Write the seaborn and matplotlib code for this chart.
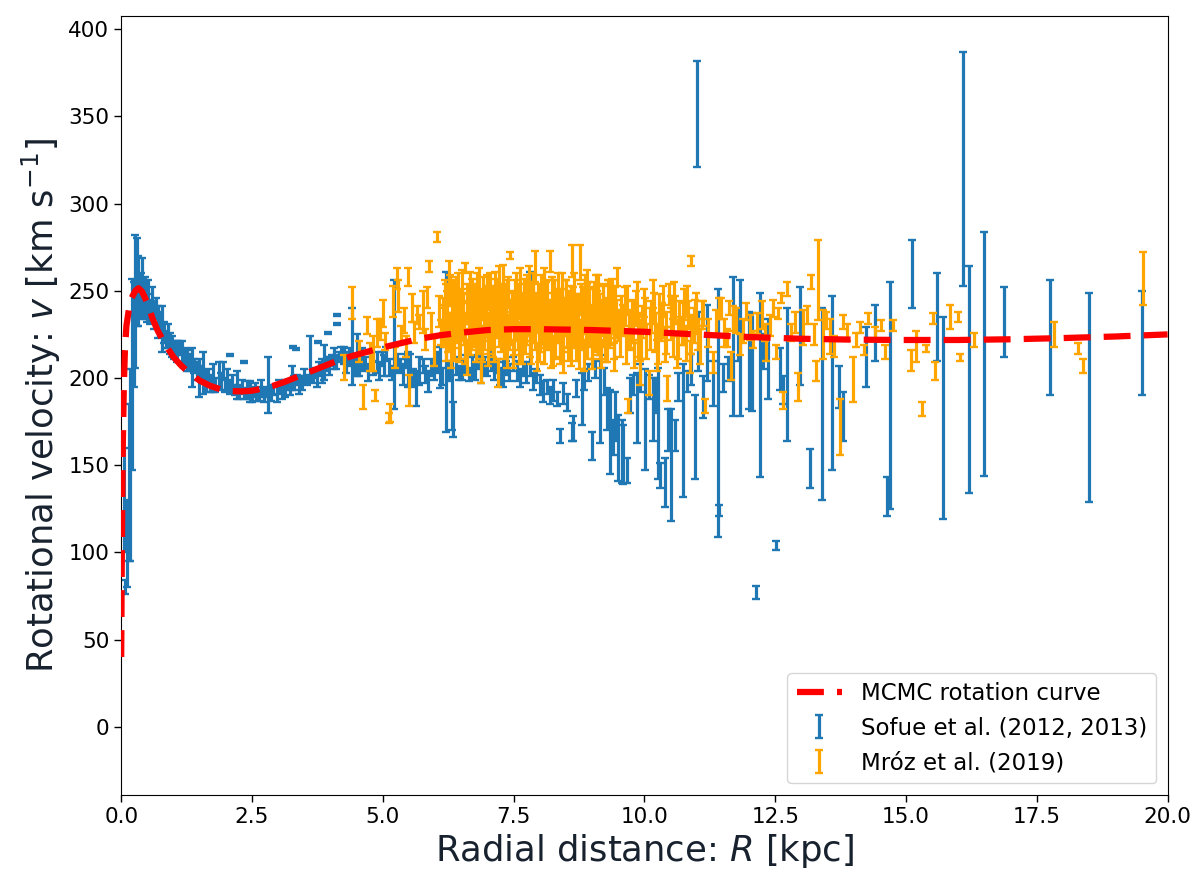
import matplotlib
matplotlib.use("Agg")
import matplotlib.pyplot as plt
import seaborn as sns

# MCMC rotation curve
curve_r = [0.0, 0.01, 0.02, 0.03, 0.05, 0.07, 0.1, 0.15, 0.2, 0.27, 0.33, 0.4, 0.5, 0.6, 0.7,
           0.8, 0.9, 1.0, 1.15, 1.3, 1.5, 1.7, 1.9, 2.1, 2.3, 2.5, 2.7, 2.9, 3.1, 3.35,
           3.6, 3.85, 4.1, 4.4, 4.7, 5.0, 5.35, 5.7, 6.1, 6.5, 7.0, 7.5, 8.0, 9.0, 10.0,
           11.0, 12.0, 13.0, 14.0, 15.0, 16.0, 17.0, 18.0, 19.0, 20.0]
curve_v = [40, 90, 130, 160, 195, 215, 230, 240, 246, 250, 251.5, 249.5, 243, 234, 227,
           221.5, 216.5, 212, 207, 203, 198.5, 195.5, 193.5, 192.5, 192.3, 192.7, 194, 195.5, 197.5, 200.5,
           203.5, 206.5, 209.5, 212.5, 215, 217.5, 220, 222.5, 224.5, 226, 227.5, 228, 228, 227.5, 226.5,
           225, 223.5, 222.5, 222, 221.8, 221.8, 222.2, 222.9, 223.8, 225]

# Sofue et al. (2012, 2013)
sofue_r = [
    0.05, 0.08, 0.11, 0.14, 0.17, 0.20, 0.24, 0.27, 0.30, 0.33, 0.37, 0.40, 0.43, 0.46, 0.49, 0.52, 0.55, 0.58,
    0.62, 0.66, 0.70, 0.74, 0.78, 0.82, 0.86, 0.90, 0.94, 0.97, 1.01, 1.06, 1.10, 1.16, 1.20, 1.25,
    1.30, 1.35, 1.40, 1.44, 1.48, 1.52, 1.57, 1.62, 1.66, 1.70, 1.75, 1.80, 1.86, 1.90, 1.95, 1.98,
    2.02, 2.07, 2.12, 2.17, 2.21, 2.26, 2.30, 2.35, 2.40, 2.46, 2.50, 2.55, 2.58, 2.63, 2.68, 2.72,
    2.77, 2.81, 2.86, 2.91, 2.97, 3.02, 3.07, 3.13, 3.18, 3.22, 3.26, 3.31, 3.36, 3.40, 3.45, 3.50,
    3.55, 3.61, 3.66, 3.70, 3.74, 3.79, 3.83, 3.87, 3.93, 3.98, 4.02, 4.06, 4.11, 4.16, 4.20, 4.25,
    2.08, 2.34, 3.29, 3.34, 3.76, 3.95, 4.12, 4.12,
    4.30, 4.35, 4.41, 4.46, 4.50, 4.55, 4.60, 4.66, 4.71, 4.76, 4.82, 4.88, 4.93, 4.98, 5.03, 5.07,
    5.12, 5.17, 5.22, 5.27, 5.33, 5.38, 5.43, 5.48, 5.52, 5.58, 5.64, 5.70, 5.76, 5.81, 5.87, 5.92,
    5.97, 6.03, 6.09, 6.14, 6.20, 6.26, 6.32, 6.34, 6.40, 6.46, 6.52, 6.58, 6.64, 6.70, 6.76, 6.82,
    6.88, 6.94, 7.00, 7.06, 7.12, 7.18, 7.24, 7.30, 7.36, 7.42, 7.48, 7.56, 7.62, 7.68, 7.74, 7.81,
    7.87, 7.93, 8.00, 8.07, 8.13, 8.20, 8.26, 8.33, 8.39, 8.45, 8.52, 8.61, 8.64, 8.70, 8.80, 8.85,
    8.92, 8.99,
    9.05, 9.15, 9.22, 9.28, 9.34, 9.40, 9.44, 9.50, 9.57, 9.60, 9.66, 9.72, 9.78, 9.85, 9.92, 10.01,
    10.08, 10.17, 10.22, 10.26, 10.30, 10.39, 10.45, 10.50, 10.58, 10.65, 10.74, 10.82, 10.90, 10.97,
    11.00, 11.03, 11.12, 11.20, 11.31, 11.41, 11.43, 11.50, 11.60, 11.70, 11.78, 11.83, 12.00, 12.05,
    12.14, 12.20, 12.26, 12.37, 12.51, 12.60, 12.65, 12.72, 12.97, 13.17, 13.40, 13.58, 13.72, 13.80,
    14.24, 14.40, 14.63, 14.70, 15.12, 15.59, 15.70, 16.08, 16.20, 16.49, 16.87, 17.76, 18.50, 19.52]
sofue_v = [
    130, 80, 105, 140, 150, 202, 225, 244, 255, 250, 248, 252, 244, 246, 240, 246, 238, 243,
    236, 240, 232, 233, 228, 226, 222, 224, 220, 218, 216, 215, 217, 215, 212, 210,
    209, 206, 207, 204, 200, 203, 203, 198, 201, 197, 200, 196, 202, 198, 204, 196,
    199, 195, 197, 193, 196, 192, 195, 191, 193, 192, 189, 193, 191, 190, 194, 190,
    192, 196, 191, 193, 191, 195, 192, 194, 196, 194, 200, 197, 199, 196, 197, 201,
    199, 211, 201, 203, 199, 205, 204, 209, 208, 207, 210, 211, 209, 212, 214, 213,
    213, 209, 218, 216.5, 220.5, 226, 236, 231,
    209, 212, 218, 207, 213, 205, 211, 208, 203, 210, 206, 209, 204, 211, 207, 214,
    206, 203, 219, 209, 207, 202, 210, 205, 205, 200, 194, 204, 207, 202, 198, 206,
    203, 209, 206, 201, 215, 204, 201, 176, 207, 203, 205, 208, 202, 206, 204, 209,
    203, 207, 205, 210, 204, 207, 201, 202, 206, 203, 208, 204, 200, 205, 203, 231,
    198, 201, 196, 192, 195, 190, 193, 188, 167, 191, 186, 169, 171, 194, 188, 199,
    203, 161,
    205, 188, 198, 182, 169, 166, 178, 160, 158, 156, 147, 190, 196, 183, 200, 176,
    195, 182, 190, 174, 144, 140, 170, 150, 167, 195, 170, 198, 205, 166,
    351.5, 221, 189, 220, 197, 180, 124, 200, 205, 218, 225, 217, 210, 209,
    77, 196, 215, 211, 104, 205, 193, 202, 224, 148, 185, 197, 195, 178,
    212, 226, 132, 190, 259.5, 235, 177, 320, 199, 214, 232, 223, 189, 220]
sofue_err = [
    30, 4, 25, 45, 55, 55, 30, 38, 25, 20, 12, 17, 10, 12, 8, 10, 7, 9,
    8, 6, 9, 5, 13, 6, 5, 7, 6, 6, 5, 6, 4, 6, 5, 6,
    5, 11, 4, 5, 11, 4, 12, 6, 4, 5, 8, 4, 7, 5, 5, 4,
    6, 4, 5, 3, 8, 4, 4, 3, 5, 6, 3, 4, 4, 3, 5, 4,
    3, 16, 4, 3, 5, 4, 4, 5, 3, 4, 7, 4, 3, 5, 4, 4,
    3, 13, 4, 3, 4, 4, 7, 10, 4, 5, 3, 6, 4, 3, 4, 5,
    0.6, 0.6, 0.6, 0.6, 0.6, 0.6, 0.6, 0.6,
    6, 5, 22, 5, 12, 4, 6, 4, 5, 6, 4, 6, 5, 4, 6, 4,
    5, 4, 37, 5, 4, 6, 4, 10, 9, 5, 10, 8, 4, 5, 6, 5,
    4, 6, 12, 5, 46, 6, 31, 10, 5, 4, 6, 5, 4, 6, 5, 4,
    6, 5, 4, 6, 5, 4, 5, 7, 4, 5, 4, 6, 5, 4, 6, 30,
    5, 4, 6, 6, 4, 5, 6, 4, 4, 6, 5, 5, 7, 5, 15, 6,
    5, 8,
    5, 25, 8, 12, 24, 10, 14, 19, 18, 17, 7, 10, 6, 20, 8, 29,
    7, 18, 10, 32, 7, 14, 12, 32, 9, 8, 38, 6, 9, 24,
    30.5, 17, 12, 22, 13, 71, 3, 8, 7, 40, 15, 39, 28, 28,
    4, 53, 10, 23, 2.5, 12, 8, 38, 28, 11, 55, 50, 12, 14,
    17, 16, 11, 65, 19.5, 25, 58, 67, 65, 70, 20, 33, 60, 30]

# Mroz et al. (2019)
mroz_r = [
    4.25, 4.41, 4.55, 4.63, 4.70, 4.76, 4.82, 4.86, 4.88, 4.95, 5.00, 5.04, 5.11, 5.14, 5.20, 5.24,
    5.27, 5.30, 5.35, 5.40, 5.45, 5.49, 5.50, 5.55, 5.60, 5.66, 5.70, 5.76, 5.80, 5.84, 5.89, 5.92,
    5.97, 6.03, 6.08, 6.12,
    6.15, 6.18, 6.20, 6.23, 6.26, 6.28, 6.31, 6.34, 6.37, 6.40, 6.43, 6.46, 6.49, 6.52, 6.55, 6.58,
    6.60, 6.63, 6.66, 6.69, 6.72, 6.75, 6.78, 6.81, 6.84, 6.87, 6.90, 6.93, 6.96, 6.99, 7.02, 7.05,
    7.08, 7.11, 7.14, 7.17, 7.20, 7.23, 7.26, 7.29, 7.32, 7.35, 7.38, 7.41, 7.43, 7.46, 7.49, 7.52,
    7.55, 7.58, 7.61, 7.64, 7.67, 7.70, 7.73, 7.76, 7.79, 7.82, 7.85, 7.88, 7.91, 7.94, 7.97, 8.00,
    8.03, 8.06, 8.09, 8.12, 8.15, 8.18, 8.20, 8.23, 8.26, 8.29, 8.32, 8.35, 8.38, 8.41, 8.44, 8.47,
    8.50, 8.53, 8.56, 8.59, 8.61, 8.64, 8.67, 8.70, 8.73, 8.76, 8.79, 8.82, 8.85, 8.88, 8.90, 8.93,
    8.96, 8.99, 9.02, 9.05, 9.08, 9.11, 9.14, 9.17, 9.20, 9.23, 9.26, 9.29, 9.32, 9.35, 9.38, 9.41,
    9.44, 9.47, 9.50, 9.53, 9.56,
    6.17, 6.21, 6.25, 6.29, 6.33, 6.36, 6.39, 6.42, 6.45, 6.48,
    6.51, 6.54, 6.57, 6.61, 6.64, 6.67, 6.70, 6.73, 6.77, 6.80,
    6.83, 6.86, 6.89, 6.92, 6.95, 6.98, 7.01, 7.04, 7.07, 7.10,
    7.13, 7.16, 7.19, 7.22, 7.25, 7.28, 7.31, 7.34, 7.37, 7.40,
    7.44, 7.47, 7.50, 7.53, 7.57, 7.60, 7.63, 7.66, 7.69, 7.72,
    7.75, 7.78, 7.81, 7.84, 7.87, 7.90, 7.93, 7.96, 7.99, 8.02,
    8.05, 8.08, 8.11, 8.14, 8.17, 8.21, 8.24, 8.27, 8.30, 8.33,
    8.36, 8.39, 8.42, 8.45, 8.48, 8.51, 8.54, 8.57, 8.60, 8.63,
    8.66, 8.69, 8.72, 8.75, 8.78, 8.81, 8.84, 8.87, 8.91, 8.94,
    8.97, 9.00, 9.03, 9.06, 9.09, 9.12, 9.15, 9.18, 9.21, 9.24,
    9.27, 9.30, 9.33, 9.36, 9.39, 9.42, 9.45,
    9.62, 9.70, 9.78, 9.86, 9.94, 10.02, 10.10, 10.18, 10.26, 10.34, 10.42, 10.50, 10.57, 10.65,
    10.73, 10.81, 10.89, 10.96,
    9.60, 9.64, 9.67, 9.69, 9.72, 9.76, 9.80, 9.84, 9.88, 9.92, 9.96, 10.00, 10.04, 10.08, 10.12, 10.16,
    10.20, 10.24, 10.28, 10.32, 10.36, 10.40, 10.43, 10.47, 10.51, 10.55, 10.59, 10.63, 10.67, 10.71,
    10.75, 10.79, 10.83, 10.87, 10.90, 10.94, 10.98, 11.02, 11.06, 11.10, 11.12, 11.16, 11.22, 11.31,
    11.36, 11.43, 11.47, 11.52, 11.57, 11.62, 11.66, 11.70, 11.76, 11.82, 11.89, 11.95, 12.02, 12.08,
    12.15, 12.24, 12.30, 12.33, 12.40, 12.45, 12.52, 12.56, 12.62, 12.65, 12.72, 12.80, 12.88, 12.94,
    13.03, 13.10, 13.19, 13.24, 13.28, 13.32, 13.42, 13.48, 13.54, 13.62, 13.73, 13.80, 13.88, 13.98,
    14.05, 14.12, 14.19, 14.28, 14.40, 14.53, 14.59, 14.75, 15.10, 15.20, 15.30, 15.39, 15.52, 15.55,
    15.84, 16.00, 16.04, 16.30, 17.82, 18.29, 18.38, 19.53]
mroz_v = [
    206, 243, 215, 189, 230, 212, 214, 190, 226, 228, 237, 221, 177, 180, 244, 212,
    257, 247, 225, 233, 218, 258, 193, 240, 226, 236, 232, 238, 222, 246, 264, 230,
    215, 281, 238, 226,
    236, 248, 222, 241, 257, 230, 214, 245, 226, 238, 252, 219, 233, 244, 228, 263,
    212, 240, 250, 224, 236, 247, 218, 231, 255, 204, 242, 227, 238, 249, 216, 233,
    245, 222, 252, 237, 203, 229, 243, 258, 220, 235, 248, 226, 270, 240, 214, 232,
    251, 223, 244, 236, 217, 249, 229, 241, 256, 221, 234, 246, 264, 212, 239, 227,
    250, 233, 218, 244, 237, 225, 267, 248, 215, 236, 229, 252, 222, 240, 210, 233,
    246, 226, 238, 216, 267, 244, 230, 221, 239, 266, 225, 242, 213, 234, 258, 247,
    228, 220, 241, 232, 250, 223, 236, 214, 244, 229, 238, 219, 247, 226, 235, 212,
    241, 258, 230, 222, 239,
    230, 244, 226, 250, 235, 220, 246, 229, 240, 224,
    253, 236, 218, 243, 230, 222, 245, 228, 239, 251,
    226, 235, 219, 247, 232, 241, 225, 250, 229, 238,
    221, 246, 233, 252, 224, 237, 243, 228, 218, 249,
    232, 240, 225, 245, 234, 220, 253, 230, 238, 224,
    247, 233, 241, 219, 250, 228, 237, 245, 222, 240,
    231, 252, 226, 243, 235, 218, 238, 247, 224, 241,
    232, 219, 250, 228, 237, 244, 221, 233, 240, 226,
    248, 231, 238, 217, 245, 229, 236, 249, 223, 240,
    233, 218, 245, 227, 239, 250, 224, 235, 242, 220,
    231, 244, 226, 238, 247, 223, 234,
    241, 226, 232, 246, 222, 236, 228, 240, 219, 233, 226, 238, 245, 222,
    231, 244, 225, 235,
    233, 218, 245, 184, 228, 236, 214, 240, 224, 203, 232, 243, 221, 197, 235, 248,
    226, 213, 238, 229, 244, 219, 194, 248, 231, 223, 239, 215, 234, 227,
    242, 220, 236, 212, 267, 230, 241, 225, 218, 236, 237, 184, 226, 209,
    232, 240, 240, 226, 223, 240, 207, 234, 233, 219, 227, 238, 229, 222,
    231, 236, 226, 217, 230, 240, 215, 237, 246, 187, 251, 226, 232, 195,
    229, 236, 255, 225, 204, 256, 225, 233, 224, 218, 172, 232, 226, 199,
    222, 229, 216, 234, 225, 230, 215, 230, 210, 218, 182, 217, 234, 204,
    235, 235, 212, 222, 225, 217, 207, 257]
mroz_err = [
    7, 9, 6, 7, 5, 8, 10, 3, 8, 6, 8, 5, 3, 5, 9, 6,
    6, 9, 5, 7, 6, 5, 9, 8, 6, 5, 4, 12, 6, 6, 3, 7,
    8, 3, 9, 7,
    10, 8, 12, 9, 10, 7, 8, 11, 9, 6, 8, 10, 12, 7, 9, 3,
    10, 9, 11, 8, 13, 7, 9, 10, 8, 7, 9, 11, 8, 10, 9, 12,
    8, 10, 9, 7, 8, 11, 10, 7, 9, 12, 8, 10, 2, 9, 8, 11,
    9, 7, 10, 12, 9, 8, 10, 11, 8, 9, 13, 9, 9, 8, 10, 12,
    9, 8, 10, 11, 7, 9, 6, 10, 8, 12, 9, 8, 10, 11, 7, 9,
    10, 8, 12, 9, 9, 8, 10, 11, 9, 10, 8, 10, 9, 12, 4, 8,
    10, 9, 11, 8, 9, 10, 12, 8, 9, 11, 8, 10, 9, 7, 10, 8,
    11, 5, 9, 10, 8,
    12, 10, 11, 9, 13, 10, 12, 9, 11, 13,
    9, 12, 10, 11, 13, 9, 12, 10, 11, 9,
    12, 13, 10, 11, 9, 12, 11, 10, 13, 9,
    12, 11, 10, 12, 9, 13, 11, 10, 12, 9,
    13, 10, 12, 11, 9, 12, 10, 13, 11, 10,
    12, 9, 13, 11, 10, 12, 11, 9, 13, 10,
    12, 11, 9, 13, 10, 12, 11, 9, 13, 10,
    12, 11, 10, 13, 9, 12, 11, 10, 13, 9,
    12, 11, 10, 12, 9, 13, 11, 10, 12, 11,
    9, 13, 10, 12, 11, 9, 13, 10, 12, 11,
    10, 12, 9, 13, 10, 12, 11,
    11, 10, 12, 9, 11, 10, 12, 9, 11, 10, 12, 9, 10, 11,
    12, 9, 11, 10,
    9, 10, 8, 4, 11, 9, 8, 10, 12, 7, 9, 8, 10, 7, 9, 8,
    11, 9, 10, 8, 9, 10, 7, 6, 9, 11, 8, 9, 10, 8,
    9, 10, 8, 9, 3, 10, 8, 9, 10, 8, 7, 4, 8, 6,
    7, 6, 6, 8, 5, 4, 8, 7, 7, 6, 7, 5, 7, 5,
    6, 8, 5, 7, 6, 5, 4, 3, 3, 5, 4, 5, 6, 8,
    10, 5, 4, 6, 6, 23, 14, 5, 10, 6, 16, 4, 5, 13,
    4, 3, 3, 3, 4, 3, 4, 3, 6, 9, 4, 2, 3, 5,
    7, 3, 2, 4, 7, 3, 4, 15]

assert len(sofue_r) == len(sofue_v) == len(sofue_err)
assert len(mroz_r) == len(mroz_v) == len(mroz_err)

label_color = "#18222f"

fig, ax = plt.subplots(figsize=(12, 8.88), dpi=100)
fig.subplots_adjust(left=0.101, right=0.973, bottom=0.105, top=0.982)

ax.errorbar(sofue_r, sofue_v, yerr=sofue_err, fmt="none", ecolor="#1f77b4",
            elinewidth=2.3, capsize=2.8, capthick=1.7, zorder=2,
            label="Sofue et al. (2012, 2013)")
ax.errorbar(mroz_r, mroz_v, yerr=mroz_err, fmt="none", ecolor="orange",
            elinewidth=2.3, capsize=2.8, capthick=1.7, zorder=3,
            label="Mróz et al. (2019)")
sns.lineplot(x=curve_r, y=curve_v, ax=ax, color="red", linewidth=4.5,
             linestyle=(0, (4.3, 2.1)), zorder=4, label="MCMC rotation curve")

ax.set_xlim(0, 20)
ax.set_ylim(-39, 407.6)
ax.set_xticks([0, 2.5, 5, 7.5, 10, 12.5, 15, 17.5, 20])
ax.set_xticklabels(["0.0", "2.5", "5.0", "7.5", "10.0", "12.5", "15.0", "17.5", "20.0"])
ax.set_yticks(range(0, 401, 50))
ax.tick_params(labelsize=15.5, length=5, width=1)

ax.set_xlabel("Radial distance: $R$ [kpc]", fontsize=25.5, color=label_color)
ax.set_ylabel("Rotational velocity: $v$ [km s$^{-1}$]", fontsize=25.5, color=label_color)

ax.legend(loc="lower right", fontsize=16.5)

fig.savefig("out.png", dpi=100)
